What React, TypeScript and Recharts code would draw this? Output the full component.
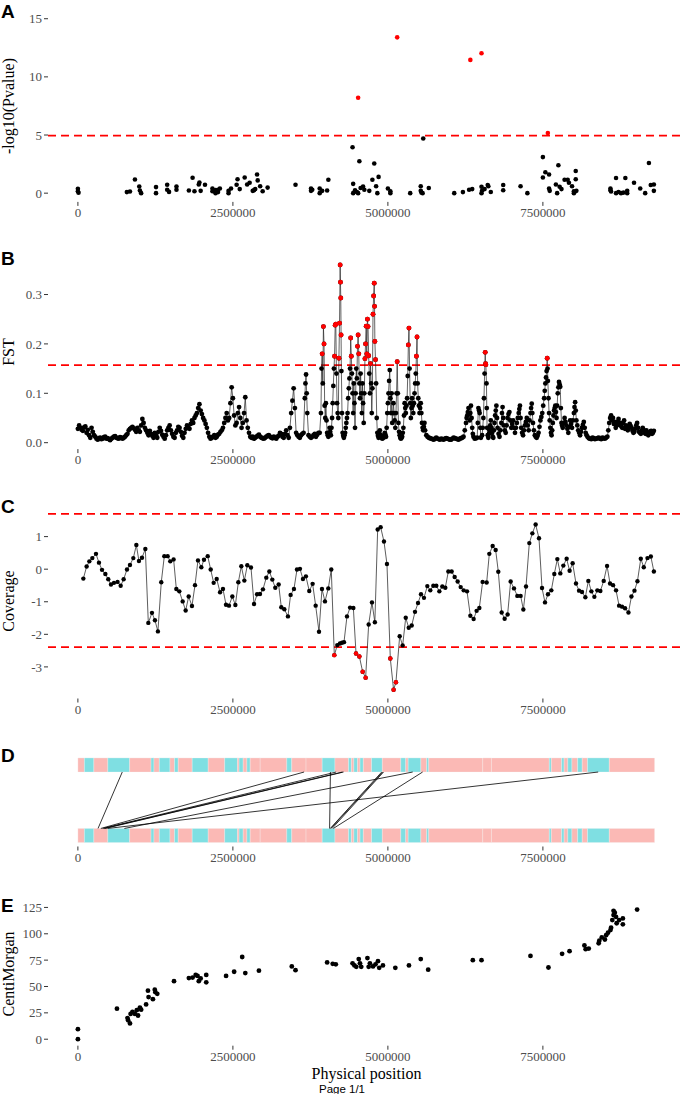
import React from 'react'
import { ScatterChart, Scatter, XAxis, YAxis, ReferenceLine, ReferenceArea } from 'recharts'

// positions are in Mb, axis labels are written out in bp
const xTicks = [0, 2.5, 5, 7.5]
const xDomain = [-0.482, 9.792]

// A: -log10(Pvalue)
const pvalThreshold = 4.95
const pvalPoints: [number, number][] = [
  [0.0, 0.37], [0.0, 0.17], [0.01, 0.03],
  [0.79, 0.09], [0.84, 0.14], [0.92, 1.17], [0.99, 0.57], [1.0, 0.23], [1.02, 0.0],
  [1.26, 0.52], [1.26, 0.0], [1.44, 0.72], [1.44, 0.29], [1.47, 0.11], [1.59, 0.57], [1.59, 0.29],
  [1.79, 0.23], [1.85, 1.32], [1.88, 0.17], [1.95, 0.75], [1.96, 0.92], [1.98, 0.2], [2.05, 0.72],
  [2.17, 0.4], [2.17, 0.17], [2.22, 0.26], [2.22, 0.0], [2.26, 0.29], [2.26, 0.09], [2.29, 0.4],
  [2.43, 0.2], [2.43, 0.0], [2.47, 0.4], [2.56, 0.72], [2.575, 1.2], [2.61, 0.35], [2.69, 1.35],
  [2.73, 0.75], [2.77, 0.9], [2.82, 0.2], [2.84, 0.25], [2.86, 0.35], [2.89, 1.6], [2.9, 1.1],
  [2.94, 0.6], [2.98, 0.17], [3.06, 0.48],
  [3.51, 0.72], [3.76, 0.4], [3.76, 0.2], [3.78, 0.29], [3.9, 0.4], [3.9, 0.0], [3.94, 0.2], [4.02, 0.23], [4.04, 1.15],
  [4.43, 3.95], [4.44, 0.8], [4.44, 0.0], [4.47, 0.25], [4.5, 0.1], [4.52, 0.0], [4.52, 8.2], [4.54, 2.75],
  [4.56, 0.45], [4.6, 0.57], [4.62, 0.3], [4.7, 0.2], [4.75, 1.15], [4.78, 2.55], [4.81, 0.6], [4.83, 0.0],
  [4.85, 1.4], [5.0, 0.4], [5.04, 0.17], [5.04, 0.0], [5.15, 13.4],
  [5.36, 0.0], [5.53, 0.6], [5.53, 0.2], [5.54, 0.05], [5.56, 0.0], [5.57, 4.7], [5.66, 0.45],
  [6.07, 0.0], [6.21, 0.09], [6.31, 0.3], [6.33, 11.46], [6.36, 0.35], [6.51, 12.03], [6.51, 0.55], [6.51, 0.0],
  [6.52, 0.23], [6.56, 0.35], [6.61, 0.7], [6.62, 0.6], [6.66, 0.1], [6.86, 0.7], [6.86, 0.25], [7.14, 0.6], [7.25, 0.0],
  [7.5, 3.1], [7.5, 1.35], [7.54, 1.8], [7.58, 5.18], [7.6, 1.6], [7.6, 0.4], [7.61, 0.2], [7.71, 0.75], [7.73, 0.0],
  [7.75, 2.4], [7.77, 0.55], [7.8, 0.35], [7.85, 1.15], [7.9, 1.15], [7.92, 0.9], [7.97, 0.6], [8.0, 0.17],
  [8.0, 0.0], [8.03, 1.9], [8.03, 1.2], [8.04, 0.2],
  [8.59, 0.4], [8.59, 0.25], [8.6, 0.15], [8.68, 1.3], [8.68, 0.0], [8.72, 0.1], [8.76, 0.0], [8.8, 0.05],
  [8.83, 1.3], [8.86, 0.2], [8.86, 0.0], [8.97, 0.9], [9.07, 0.4], [9.15, 0.0], [9.21, 2.6], [9.24, 0.7],
  [9.29, 0.75], [9.29, 0.2],
]

// B: FST
const fstThreshold = 0.157
const fstPoints: [number, number][] = [
  [0.00, 0.028], [0.02, 0.035], [0.04, 0.030], [0.06, 0.026], [0.08, 0.024], [0.10, 0.031], [0.12, 0.033],
  [0.14, 0.020], [0.16, 0.026], [0.18, 0.015], [0.20, 0.010], [0.22, 0.030], [0.24, 0.022], [0.26, 0.015],
  [0.28, 0.012], [0.30, 0.008], [0.32, 0.006], [0.34, 0.009], [0.36, 0.010], [0.38, 0.007], [0.40, 0.008],
  [0.42, 0.011], [0.44, 0.012], [0.46, 0.008], [0.48, 0.009], [0.50, 0.007], [0.52, 0.005], [0.54, 0.008],
  [0.56, 0.010], [0.58, 0.012], [0.60, 0.013], [0.62, 0.010], [0.64, 0.009], [0.66, 0.008], [0.68, 0.011],
  [0.70, 0.010], [0.72, 0.008], [0.74, 0.010], [0.76, 0.012], [0.78, 0.015], [0.80, 0.018], [0.82, 0.025],
  [0.84, 0.028], [0.86, 0.030], [0.88, 0.032], [0.90, 0.029], [0.92, 0.026], [0.94, 0.022], [0.96, 0.030],
  [0.98, 0.025], [1.00, 0.022], [1.02, 0.035], [1.04, 0.048], [1.06, 0.040], [1.08, 0.030], [1.10, 0.025],
  [1.12, 0.020], [1.14, 0.015], [1.16, 0.024], [1.18, 0.018], [1.20, 0.014], [1.22, 0.010], [1.24, 0.020],
  [1.26, 0.015], [1.28, 0.010], [1.30, 0.022], [1.32, 0.030], [1.34, 0.024], [1.36, 0.016], [1.38, 0.012],
  [1.40, 0.008], [1.42, 0.015], [1.44, 0.025], [1.46, 0.030], [1.48, 0.035], [1.50, 0.025], [1.52, 0.018],
  [1.54, 0.012], [1.56, 0.010], [1.58, 0.020], [1.60, 0.025], [1.62, 0.032], [1.64, 0.030], [1.66, 0.022],
  [1.68, 0.014], [1.70, 0.010], [1.72, 0.020], [1.74, 0.028], [1.76, 0.035], [1.78, 0.030], [1.80, 0.028],
  [1.82, 0.038], [1.84, 0.045], [1.86, 0.040], [1.88, 0.050], [1.90, 0.055], [1.92, 0.060], [1.94, 0.070],
  [1.96, 0.078], [1.98, 0.065], [2.00, 0.058], [2.02, 0.050], [2.04, 0.045], [2.06, 0.038], [2.08, 0.030],
  [2.10, 0.020], [2.12, 0.012], [2.14, 0.008], [2.16, 0.010], [2.18, 0.012], [2.20, 0.015], [2.22, 0.010],
  [2.24, 0.012], [2.26, 0.016], [2.28, 0.018], [2.30, 0.022], [2.32, 0.025], [2.34, 0.030], [2.36, 0.040],
  [2.38, 0.050], [2.40, 0.060], [2.42, 0.045], [2.44, 0.050], [2.46, 0.080], [2.48, 0.112], [2.50, 0.090],
  [2.52, 0.055], [2.54, 0.035], [2.56, 0.040], [2.58, 0.060], [2.60, 0.072], [2.62, 0.050], [2.64, 0.030],
  [2.66, 0.040], [2.68, 0.060], [2.70, 0.092], [2.72, 0.045], [2.74, 0.030], [2.76, 0.020], [2.78, 0.012],
  [2.80, 0.010], [2.82, 0.012], [2.84, 0.008], [2.86, 0.010], [2.88, 0.012], [2.90, 0.014], [2.92, 0.016],
  [2.94, 0.012], [2.96, 0.010], [2.98, 0.009], [3.00, 0.008], [3.02, 0.010], [3.04, 0.012], [3.06, 0.014],
  [3.08, 0.015], [3.10, 0.012], [3.12, 0.010], [3.14, 0.009], [3.16, 0.012], [3.18, 0.010], [3.20, 0.008],
  [3.22, 0.012], [3.24, 0.014], [3.26, 0.020], [3.28, 0.018], [3.30, 0.012], [3.32, 0.010], [3.34, 0.018],
  [3.36, 0.025], [3.38, 0.015], [3.40, 0.010], [3.42, 0.030], [3.44, 0.060], [3.46, 0.085], [3.48, 0.110],
  [3.50, 0.070], [3.52, 0.020], [3.54, 0.015], [3.56, 0.012], [3.58, 0.010], [3.60, 0.015], [3.62, 0.018],
  [3.64, 0.020], [3.66, 0.090], [3.67, 0.120], [3.68, 0.138], [3.69, 0.100], [3.70, 0.060], [3.72, 0.015],
  [3.74, 0.012], [3.76, 0.010], [3.78, 0.012], [3.80, 0.015], [3.82, 0.018], [3.84, 0.012], [3.86, 0.016],
  [3.88, 0.020],
  [3.90, 0.020], [3.92, 0.060], [3.93, 0.150], [3.94, 0.180], [3.95, 0.120], [3.96, 0.235], [3.97, 0.200],
  [3.98, 0.075], [3.99, 0.050], [4.00, 0.080], [4.01, 0.045], [4.02, 0.020], [4.03, 0.015], [4.04, 0.012],
  [4.05, 0.020], [4.06, 0.030], [4.07, 0.022], [4.08, 0.015], [4.09, 0.030], [4.10, 0.050], [4.11, 0.080],
  [4.12, 0.115], [4.13, 0.150], [4.14, 0.175], [4.15, 0.238], [4.16, 0.240], [4.17, 0.140], [4.18, 0.080],
  [4.19, 0.060], [4.20, 0.050], [4.21, 0.171], [4.22, 0.242], [4.23, 0.360], [4.235, 0.325], [4.24, 0.293],
  [4.245, 0.218], [4.25, 0.145], [4.26, 0.060], [4.27, 0.020], [4.28, 0.014], [4.29, 0.010], [4.30, 0.015],
  [4.31, 0.020], [4.32, 0.030], [4.33, 0.040], [4.34, 0.050], [4.35, 0.060], [4.36, 0.090], [4.37, 0.110],
  [4.38, 0.130], [4.39, 0.150], [4.40, 0.212], [4.41, 0.175], [4.42, 0.140], [4.43, 0.100], [4.44, 0.060],
  [4.45, 0.120], [4.46, 0.080], [4.47, 0.030], [4.48, 0.100], [4.49, 0.150], [4.50, 0.130], [4.51, 0.195],
  [4.52, 0.218], [4.53, 0.180], [4.54, 0.120], [4.55, 0.090], [4.56, 0.140], [4.57, 0.100], [4.58, 0.060],
  [4.59, 0.120], [4.60, 0.080], [4.61, 0.040], [4.62, 0.100], [4.63, 0.170], [4.64, 0.200], [4.65, 0.236],
  [4.66, 0.180], [4.67, 0.250], [4.68, 0.235], [4.69, 0.176], [4.70, 0.140], [4.71, 0.100], [4.72, 0.160],
  [4.73, 0.120], [4.74, 0.060], [4.75, 0.110], [4.76, 0.260], [4.77, 0.297], [4.78, 0.323], [4.785, 0.276],
  [4.79, 0.205], [4.80, 0.168], [4.81, 0.120], [4.82, 0.050], [4.83, 0.020], [4.84, 0.014], [4.85, 0.010],
  [4.86, 0.018], [4.87, 0.025], [4.88, 0.016], [4.89, 0.012], [4.90, 0.010], [4.91, 0.008], [4.92, 0.012],
  [4.93, 0.010], [4.94, 0.015], [4.95, 0.020], [4.96, 0.016], [4.97, 0.012], [4.98, 0.030], [4.99, 0.060],
  [5.00, 0.080], [5.01, 0.100], [5.02, 0.125], [5.03, 0.147], [5.04, 0.090], [5.05, 0.060], [5.06, 0.100],
  [5.07, 0.040], [5.08, 0.060], [5.09, 0.080], [5.10, 0.060], [5.11, 0.045], [5.12, 0.030], [5.13, 0.060],
  [5.14, 0.100], [5.15, 0.164], [5.16, 0.100], [5.17, 0.040], [5.18, 0.022], [5.19, 0.015], [5.20, 0.010],
  [5.21, 0.008], [5.22, 0.010], [5.23, 0.012], [5.24, 0.020], [5.25, 0.030], [5.26, 0.055], [5.27, 0.080],
  [5.28, 0.070], [5.29, 0.060], [5.30, 0.075], [5.31, 0.090], [5.32, 0.135], [5.33, 0.198], [5.34, 0.232],
  [5.35, 0.150], [5.36, 0.080], [5.37, 0.050], [5.38, 0.070], [5.39, 0.090], [5.40, 0.075], [5.41, 0.060],
  [5.42, 0.080], [5.43, 0.100], [5.44, 0.120], [5.45, 0.140], [5.46, 0.175], [5.47, 0.214], [5.48, 0.120],
  [5.49, 0.090], [5.50, 0.075], [5.51, 0.060], [5.52, 0.070], [5.53, 0.080], [5.54, 0.060], [5.55, 0.040],
  [5.56, 0.030], [5.57, 0.025], [5.58, 0.032], [5.59, 0.040], [5.60, 0.025], [5.62, 0.015], [5.64, 0.012],
  [5.66, 0.010], [5.68, 0.009], [5.70, 0.008], [5.72, 0.007], [5.74, 0.006], [5.76, 0.008], [5.78, 0.010],
  [5.80, 0.008], [5.82, 0.007], [5.84, 0.006], [5.86, 0.008], [5.88, 0.007], [5.90, 0.006], [5.92, 0.008],
  [5.94, 0.009], [5.96, 0.008], [5.98, 0.007], [6.00, 0.006], [6.02, 0.006], [6.04, 0.008], [6.06, 0.010],
  [6.08, 0.009], [6.10, 0.008], [6.12, 0.007], [6.14, 0.006], [6.16, 0.008], [6.18, 0.009], [6.20, 0.010],
  [6.22, 0.012], [6.24, 0.025], [6.26, 0.040], [6.27, 0.050], [6.28, 0.055], [6.29, 0.062], [6.30, 0.070],
  [6.31, 0.058], [6.32, 0.045], [6.33, 0.060], [6.34, 0.075], [6.35, 0.050], [6.36, 0.030], [6.37, 0.018],
  [6.38, 0.012], [6.40, 0.008], [6.42, 0.009], [6.44, 0.010], [6.45, 0.040], [6.46, 0.070], [6.47, 0.065],
  [6.48, 0.060], [6.49, 0.030], [6.50, 0.010], [6.52, 0.015], [6.53, 0.030], [6.54, 0.050], [6.55, 0.090],
  [6.56, 0.140], [6.57, 0.183], [6.575, 0.160], [6.58, 0.158], [6.59, 0.120], [6.595, 0.070], [6.60, 0.030],
  [6.61, 0.015], [6.62, 0.010], [6.63, 0.018], [6.64, 0.025], [6.65, 0.035], [6.66, 0.045], [6.67, 0.030],
  [6.68, 0.020], [6.69, 0.012], [6.70, 0.010], [6.71, 0.025], [6.72, 0.040], [6.73, 0.055], [6.74, 0.065],
  [6.75, 0.075], [6.76, 0.050], [6.77, 0.030], [6.785, 0.018], [6.80, 0.012], [6.815, 0.025], [6.83, 0.040],
  [6.84, 0.060], [6.85, 0.072], [6.86, 0.050], [6.87, 0.035], [6.885, 0.025], [6.90, 0.020], [6.915, 0.035],
  [6.93, 0.050], [6.945, 0.058], [6.96, 0.062], [6.975, 0.045], [6.99, 0.030], [7.005, 0.038], [7.02, 0.045],
  [7.035, 0.030], [7.05, 0.020], [7.065, 0.030], [7.08, 0.040], [7.095, 0.050], [7.11, 0.060], [7.12, 0.068],
  [7.13, 0.075], [7.14, 0.050], [7.15, 0.030], [7.165, 0.020], [7.18, 0.015], [7.195, 0.025], [7.21, 0.035],
  [7.225, 0.042], [7.24, 0.050], [7.255, 0.035], [7.27, 0.025], [7.285, 0.045], [7.30, 0.060], [7.31, 0.070],
  [7.32, 0.079], [7.33, 0.060], [7.34, 0.040], [7.355, 0.025], [7.37, 0.015], [7.385, 0.012], [7.40, 0.010],
  [7.415, 0.014], [7.43, 0.020], [7.445, 0.032], [7.46, 0.045], [7.475, 0.052], [7.49, 0.060], [7.505, 0.075],
  [7.52, 0.090], [7.53, 0.105], [7.54, 0.120], [7.55, 0.132], [7.56, 0.145], [7.57, 0.171], [7.575, 0.150],
  [7.58, 0.125], [7.59, 0.090], [7.60, 0.060], [7.61, 0.045], [7.62, 0.030], [7.63, 0.020], [7.64, 0.015],
  [7.65, 0.025], [7.66, 0.040], [7.67, 0.055], [7.68, 0.065], [7.69, 0.070], [7.70, 0.075], [7.71, 0.062],
  [7.72, 0.050], [7.73, 0.075], [7.74, 0.100], [7.75, 0.112], [7.76, 0.123], [7.77, 0.118], [7.78, 0.113],
  [7.79, 0.070], [7.80, 0.040], [7.81, 0.035], [7.82, 0.030], [7.835, 0.040], [7.85, 0.050], [7.865, 0.042],
  [7.88, 0.035], [7.895, 0.028], [7.91, 0.020], [7.925, 0.032], [7.94, 0.045], [7.955, 0.038], [7.97, 0.030],
  [7.985, 0.045], [8.00, 0.060], [8.01, 0.072], [8.02, 0.082], [8.03, 0.065], [8.04, 0.045], [8.055, 0.035],
  [8.07, 0.025], [8.085, 0.020], [8.10, 0.015], [8.115, 0.022], [8.13, 0.030], [8.145, 0.036], [8.16, 0.042],
  [8.175, 0.030], [8.19, 0.020], [8.205, 0.015], [8.22, 0.012], [8.24, 0.009], [8.26, 0.008], [8.28, 0.007],
  [8.30, 0.010], [8.32, 0.009], [8.34, 0.007], [8.36, 0.008], [8.38, 0.009], [8.40, 0.010], [8.42, 0.008],
  [8.44, 0.007], [8.46, 0.010], [8.48, 0.009], [8.50, 0.008], [8.52, 0.010], [8.54, 0.012], [8.555, 0.025],
  [8.57, 0.040], [8.585, 0.050], [8.60, 0.055], [8.615, 0.045], [8.63, 0.050], [8.645, 0.038], [8.66, 0.042],
  [8.675, 0.030], [8.69, 0.035], [8.705, 0.042], [8.72, 0.048], [8.735, 0.036], [8.75, 0.040], [8.765, 0.033],
  [8.78, 0.030], [8.795, 0.040], [8.81, 0.045], [8.825, 0.028], [8.84, 0.035], [8.855, 0.032], [8.87, 0.025],
  [8.885, 0.030], [8.90, 0.038], [8.915, 0.034], [8.93, 0.030], [8.945, 0.024], [8.96, 0.020], [8.975, 0.022],
  [8.99, 0.028], [9.005, 0.035], [9.02, 0.040], [9.035, 0.030], [9.05, 0.022], [9.065, 0.020], [9.08, 0.018],
  [9.095, 0.025], [9.11, 0.030], [9.125, 0.026], [9.14, 0.020], [9.155, 0.018], [9.17, 0.025], [9.185, 0.020],
  [9.20, 0.015], [9.215, 0.019], [9.23, 0.022], [9.245, 0.024], [9.26, 0.018], [9.275, 0.020], [9.29, 0.024],
]

// C: Coverage
const covUpper = 1.7
const covLower = -2.39
const covPoints: [number, number][] = [
  [0.088, -0.29], [0.141, 0.08], [0.185, 0.24], [0.233, 0.34], [0.292, 0.47], [0.34, 0.2], [0.389, -0.02],
  [0.443, -0.15], [0.49, -0.31], [0.534, -0.47], [0.582, -0.42], [0.64, -0.39], [0.69, -0.51], [0.738, -0.31],
  [0.792, -0.01], [0.84, 0.13], [0.894, 0.34], [0.943, 0.74], [0.985, 0.25], [1.034, 0.35], [1.088, 0.62],
  [1.136, -1.65], [1.195, -1.34], [1.243, -1.57], [1.291, -1.91], [1.345, -0.4], [1.394, 0.4], [1.448, 0.4],
  [1.49, 0.24], [1.544, 0.3], [1.588, -0.61], [1.636, -0.68], [1.69, -0.99], [1.738, -1.27], [1.787, -0.84],
  [1.84, -1.13], [1.889, -0.49], [1.937, 0.27], [1.991, 0.06], [2.034, 0.29], [2.094, 0.4], [2.142, -0.01],
  [2.19, -0.42], [2.239, -0.3], [2.293, -0.71], [2.34, -0.61], [2.389, -1.09], [2.437, -1.12], [2.491, -0.84],
  [2.54, -1.1], [2.588, -0.4], [2.636, 0.09], [2.685, -0.35], [2.733, 0.12], [2.792, 0.05], [2.841, -1.07],
  [2.89, -0.77], [2.937, -0.76], [2.985, -0.62], [3.039, -0.26], [3.088, -0.07], [3.136, -0.32], [3.184, -0.57],
  [3.238, -0.47], [3.281, -1.17], [3.33, -1.23], [3.388, -1.45], [3.431, -0.79], [3.485, -0.61], [3.534, -0.01],
  [3.582, 0.01], [3.63, -0.3], [3.678, -0.22], [3.732, -0.67], [3.786, -0.45], [3.835, -1.12], [3.889, -1.92],
  [3.937, -0.61], [3.985, -0.99], [4.039, -0.59], [4.087, -0.01], [4.136, -2.64], [4.184, -2.33], [4.227, -2.28],
  [4.26, -2.26], [4.292, -2.24], [4.34, -1.45], [4.39, -1.18], [4.443, -1.19], [4.486, -2.59], [4.54, -2.68],
  [4.593, -3.15], [4.641, -3.33], [4.69, -1.7], [4.743, -1.02], [4.79, -1.63], [4.835, 1.22], [4.883, 1.29],
  [4.937, 0.85], [4.985, 0.16], [5.039, -2.74], [5.092, -3.7], [5.13, -3.47], [5.19, -2.06], [5.238, -2.34],
  [5.288, -1.49], [5.336, -1.8], [5.384, -1.73], [5.437, -1.31], [5.486, -1.04], [5.534, -0.77], [5.582, -0.88],
  [5.636, -0.52], [5.684, -0.65], [5.733, -0.51], [5.781, -0.51], [5.83, -0.68], [5.878, -0.53], [5.926, -0.57],
  [5.975, -0.07], [6.028, -0.07], [6.077, -0.24], [6.125, -0.38], [6.174, -0.55], [6.222, -0.65], [6.276, -0.68],
  [6.33, -1.43], [6.383, -1.53], [6.431, -1.28], [6.475, -1.19], [6.528, -0.39], [6.593, -0.41], [6.636, 0.47],
  [6.69, 0.71], [6.738, 0.59], [6.781, -0.08], [6.835, -1.33], [6.883, -1.52], [6.931, -1.39], [6.98, -0.38],
  [7.034, -0.59], [7.088, -0.82], [7.141, -0.82], [7.185, -1.24], [7.228, -0.53], [7.281, 0.8], [7.33, 1.1],
  [7.383, 1.37], [7.437, 0.95], [7.486, -0.58], [7.534, -1.02], [7.582, -0.77], [7.636, -0.65], [7.684, -0.15],
  [7.733, 0.31], [7.781, -0.13], [7.83, 0.11], [7.883, 0.32], [7.931, -0.05], [7.98, 0.18], [8.034, -0.44],
  [8.083, -0.66], [8.131, -0.7], [8.185, -0.86], [8.233, -0.36], [8.282, -0.68], [8.33, -0.85], [8.379, -0.65],
  [8.427, -0.67], [8.481, -0.36], [8.535, 0.1], [8.583, -0.44], [8.632, -0.49], [8.68, -0.65], [8.729, -1.12],
  [8.777, -1.15], [8.825, -1.2], [8.88, -1.33], [8.928, -0.84], [8.977, -0.66], [9.025, -0.37], [9.079, 0.32],
  [9.127, 0.06], [9.187, 0.34], [9.241, 0.39], [9.29, -0.07],
]

// D: synteny blocks (start, end, class) and links (top position -> bottom position)
const blocks: [number, number, number][] = [
  [0, 0.105, 0], [0.105, 0.258, 1], [0.258, 0.483, 0], [0.483, 0.835, 1], [0.835, 1.18, 0], [1.18, 1.227, 1],
  [1.227, 1.313, 0], [1.313, 1.485, 1], [1.485, 1.558, 0], [1.558, 1.618, 1], [1.618, 1.844, 0], [1.844, 2.102, 1],
  [2.102, 2.368, 0], [2.368, 2.573, 1], [2.573, 2.6, 0], [2.6, 2.666, 1], [2.666, 2.726, 0], [2.726, 2.779, 1],
  [2.779, 2.94, 0], [2.94, 3.369, 0], [3.369, 3.449, 1], [3.449, 3.68, 0], [3.68, 3.94, 0], [3.94, 4.146, 1],
  [4.146, 4.365, 0], [4.365, 4.411, 1], [4.411, 4.451, 0], [4.451, 4.511, 1], [4.511, 4.551, 0], [4.551, 4.604, 1],
  [4.604, 4.737, 0], [4.737, 4.91, 1], [4.91, 5.208, 0], [5.208, 5.288, 1], [5.288, 5.327, 0], [5.327, 5.532, 1],
  [5.532, 5.626, 0], [5.626, 5.659, 1], [5.659, 6.53, 0], [6.53, 6.67, 0], [6.67, 7.603, 0], [7.603, 7.636, 1],
  [7.636, 7.802, 0], [7.802, 7.842, 1], [7.842, 7.902, 0], [7.902, 7.968, 1], [7.968, 8.06, 0], [8.06, 8.134, 1],
  [8.134, 8.219, 0], [8.219, 8.571, 1], [8.571, 9.302, 0],
]
const links: [number, number][] = [
  [0.716, 0.325], [3.648, 0.37], [4.166, 0.4], [4.266, 0.42], [4.285, 0.44], [5.4, 0.75], [8.392, 0.48],
  [4.073, 4.06], [4.9, 4.07], [4.916, 4.08], [4.93, 4.1], [5.56, 4.12],
]

// E: genetic map
const cmPoints: [number, number][] = [
  [0, 9.5], [0, 0], [0.63, 29], [0.8, 20], [0.81, 18], [0.84, 15], [0.85, 24], [0.88, 26], [0.92, 24],
  [0.95, 27.5], [0.97, 22.5], [1.0, 30], [1.02, 28], [1.1, 33], [1.13, 46], [1.14, 40], [1.21, 38], [1.24, 47],
  [1.25, 44.6], [1.28, 43], [1.55, 55], [1.79, 58], [1.85, 58.5], [1.9, 61], [1.93, 60], [1.95, 55], [1.98, 57.6],
  [2.07, 61], [2.07, 54], [2.39, 60], [2.52, 64], [2.65, 78], [2.7, 62.7], [2.92, 65], [3.45, 69], [3.51, 65.5],
  [4.02, 72.8], [4.11, 71.5], [4.16, 71], [4.43, 72], [4.46, 70], [4.49, 68.7], [4.53, 76], [4.55, 72],
  [4.57, 68.7], [4.67, 77], [4.69, 68.7], [4.71, 72], [4.76, 69], [4.8, 71], [4.84, 74], [4.86, 67.7],
  [4.92, 70], [5.12, 67.7], [5.34, 70], [5.53, 76], [5.65, 66], [6.37, 75], [6.51, 75], [7.3, 79], [7.59, 68],
  [7.81, 81], [7.93, 83.5], [8.17, 89], [8.19, 85.4], [8.24, 86], [8.4, 91], [8.41, 93.4], [8.45, 96.5],
  [8.5, 94.6], [8.52, 98.7], [8.55, 101], [8.59, 103.5], [8.6, 105.7], [8.62, 113], [8.64, 117.7], [8.64, 121.8],
  [8.66, 120], [8.68, 116], [8.69, 110], [8.73, 113], [8.79, 114.6], [8.79, 109], [9.02, 123],
]

const toXY = (arr: [number, number][]) => arr.map(([x, y]) => ({ x, y }))

const SERIF = '"Liberation Serif", "Times New Roman", serif'
const SANS = '"Liberation Sans", Arial, sans-serif'
const RED = '#FF0000'
const TICK_TEXT = '#4D4D4D'

const dot = (color: string, r = 2.3) => (p: any) => <circle cx={p.cx} cy={p.cy} r={r} fill={color} />
const noDot = () => <g />

interface IPanel {
  top: number
  bottom: number
  yDomain?: number[]
  yTicks?: number[]
  yFormat?: (v: number) => string
  hideY?: boolean
  children: React.ReactNode
}

const Panel = ({ top, bottom, yDomain, yTicks, yFormat, hideY, children }: IPanel) => {
  const h = bottom - top
  return (
    <div style={{ position: 'absolute', left: 0, top: top - 2 }}>
      <ScatterChart width={685} height={h + 32} margin={{ top: 2, right: 0, bottom: 0, left: hideY ? 48 : 0 }}>
        <XAxis
          type='number'
          dataKey='x'
          domain={xDomain}
          ticks={xTicks}
          interval={0}
          allowDataOverflow
          height={30}
          axisLine={false}
          tickSize={4}
          tickMargin={2}
          tickLine={{ stroke: '#333', strokeWidth: 1 }}
          tick={{ fill: TICK_TEXT, fontSize: 13, fontFamily: SERIF }}
          tickFormatter={(v: number) => String(Math.round(v * 1000000))}
        />
        <YAxis
          type='number'
          dataKey='y'
          domain={yDomain}
          ticks={yTicks}
          interval={0}
          allowDataOverflow
          hide={hideY}
          width={48}
          axisLine={false}
          tickSize={4}
          tickMargin={2}
          tickLine={{ stroke: '#333', strokeWidth: 1 }}
          tick={{ fill: TICK_TEXT, fontSize: 13, fontFamily: SERIF }}
          tickFormatter={yFormat}
        />
        {children}
      </ScatterChart>
    </div>
  )
}

const App = () => {
  const pval = toXY(pvalPoints)
  const fst = toXY(fstPoints)
  const cov = toXY(covPoints)
  const cm = toXY(cmPoints)

  return (
    <div style={{ position: 'absolute', left: 0, top: 0, width: 685, height: 1094, background: '#fff' }}>
      <Panel top={9.5} bottom={201.4} yDomain={[-0.75, 15.75]} yTicks={[0, 5, 10, 15]}>
        <ReferenceLine y={pvalThreshold} stroke={RED} strokeDasharray='8 5' strokeWidth={1.8} />
        <Scatter data={pval.filter((d) => d.y <= pvalThreshold)} shape={dot('#000')} isAnimationActive={false} />
        <Scatter data={pval.filter((d) => d.y > pvalThreshold)} shape={dot(RED)} isAnimationActive={false} />
      </Panel>

      <Panel top={255.6} bottom={448.7} yDomain={[-0.013, 0.378]} yTicks={[0, 0.1, 0.2, 0.3]} yFormat={(v) => v.toFixed(1)}>
        <ReferenceLine y={fstThreshold} stroke={RED} strokeDasharray='8 5' strokeWidth={1.8} />
        <Scatter
          data={fst}
          line={{ stroke: '#222', strokeWidth: 0.7 }}
          lineType='joint'
          shape={dot('#000', 2.4)}
          isAnimationActive={false}
        />
        <Scatter data={fst.filter((d) => d.y > fstThreshold)} shape={dot(RED, 2.4)} isAnimationActive={false} />
      </Panel>

      <Panel top={504.5} bottom={698} yDomain={[-3.97, 1.97]} yTicks={[-3, -2, -1, 0, 1]}>
        <ReferenceLine y={covUpper} stroke={RED} strokeDasharray='8 5' strokeWidth={1.8} />
        <ReferenceLine y={covLower} stroke={RED} strokeDasharray='8 5' strokeWidth={1.8} />
        <Scatter
          data={cov}
          line={{ stroke: '#333', strokeWidth: 0.8 }}
          lineType='joint'
          shape={dot('#000', 2.2)}
          isAnimationActive={false}
        />
        <Scatter data={cov.filter((d) => d.y < covLower)} shape={dot(RED, 2.2)} isAnimationActive={false} />
      </Panel>

      <Panel top={752} bottom={846.5} yDomain={[0.844, 2.184]} hideY>
        {blocks.map(([s, e, c], i) => (
          <ReferenceArea
            key={'t' + i}
            x1={s}
            x2={e}
            y1={1.9}
            y2={2.1}
            fill={c ? '#7FDFE2' : '#FBB9B5'}
            fillOpacity={1}
            stroke='#f6f6f6'
            strokeWidth={0.3}
          />
        ))}
        {blocks.map(([s, e, c], i) => (
          <ReferenceArea
            key={'b' + i}
            x1={s}
            x2={e}
            y1={0.9}
            y2={1.1}
            fill={c ? '#7FDFE2' : '#FBB9B5'}
            fillOpacity={1}
            stroke='#f6f6f6'
            strokeWidth={0.3}
          />
        ))}
        {links.map(([a, b], i) => (
          <Scatter
            key={'l' + i}
            data={[{ x: a, y: 1.9 }, { x: b, y: 1.1 }]}
            line={{ stroke: '#000', strokeWidth: 0.8 }}
            lineType='joint'
            shape={noDot}
            isAnimationActive={false}
          />
        ))}
      </Panel>

      <Panel top={902.8} bottom={1045.5} yDomain={[-6.15, 129.2]} yTicks={[0, 25, 50, 75, 100, 125]}>
        <Scatter data={cm} shape={dot('#000', 2.4)} isAnimationActive={false} />
      </Panel>

      <svg width={685} height={1094} style={{ position: 'absolute', left: 0, top: 0, pointerEvents: 'none' }}>
        <g fontFamily={SANS} fontWeight='bold' fontSize={19} fill='#000'>
          <text x={1} y={18.3}>A</text>
          <text x={1} y={265}>B</text>
          <text x={1} y={513.3}>C</text>
          <text x={1} y={761.7}>D</text>
          <text x={1} y={911.7}>E</text>
        </g>
        <g fontFamily={SERIF} fontSize={16} fill='#000' textAnchor='middle'>
          <text transform='translate(14,106) rotate(-90)'>-log10(Pvalue)</text>
          <text transform='translate(14,352) rotate(-90)'>FST</text>
          <text transform='translate(14,601) rotate(-90)'>Coverage</text>
          <text transform='translate(14,974) rotate(-90)'>CentiMorgan</text>
          <text x={366.5} y={1078.5}>Physical position</text>
        </g>
        <text x={342} y={1093} fontFamily={SANS} fontSize={11.5} textAnchor='middle' fill='#000'>
          Page 1/1
        </text>
      </svg>
    </div>
  )
}

export default App
